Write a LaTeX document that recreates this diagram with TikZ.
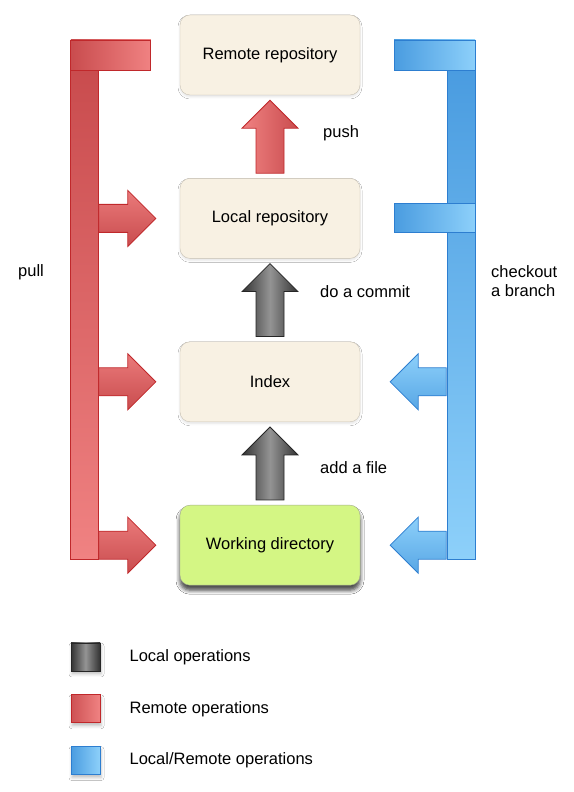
\documentclass[tikz,border=0pt]{standalone}
\usepackage{fontspec}
\setmainfont{Liberation Sans}
\usetikzlibrary{positioning, calc, shadows.blur}
\definecolor{boxfill}{HTML}{F8F1E3}
\definecolor{boxline}{HTML}{C8C1B3}
\definecolor{workfill}{HTML}{D4F684}
\definecolor{workline}{HTML}{A3AD8C}
\definecolor{reddark}{HTML}{C94C4E}
\definecolor{redlight}{HTML}{F08282}
\definecolor{redline}{HTML}{C0282B}
\definecolor{bluedark}{HTML}{4A9CE0}
\definecolor{bluelight}{HTML}{8DD0FA}
\definecolor{blueline}{HTML}{2D7ED0}

% fat arrow pointing up, from tail (#2) to tip (#3)
\newcommand{\opup}[3]{%
  \path[#1] let \p1=(#2), \p2=(#3) in
    (\x1-14pt,\y1) -- (\x1-14pt,\y2-28pt) -- (\x1-28pt,\y2-28pt) -- (\x1,\y2)
    -- (\x1+28pt,\y2-28pt) -- (\x1+14pt,\y2-28pt) -- (\x1+14pt,\y1) -- cycle;}
% fat arrow pointing left or right
\newcommand{\opside}[3]{%
  \path[#1] let \p1=(#2), \p2=(#3), \n1={sign(\x2-\x1)*28} in
    (\x1,\y1-14pt) -- (\x2-\n1,\y1-14pt) -- (\x2-\n1,\y1-28pt) -- (\x2,\y1)
    -- (\x2-\n1,\y1+28pt) -- (\x2-\n1,\y1+14pt) -- (\x1,\y1+14pt) -- cycle;}

\begin{document}
\begin{tikzpicture}[
    x=1pt, y=1pt,
    node distance=83pt,
    every node/.style={font=\fontsize{16.5}{19}\selectfont},
    repo/.style={rectangle, rounded corners=10pt, draw=boxline, fill=boxfill, minimum width=180pt, minimum height=80pt,
      blur shadow={shadow xshift=0pt, shadow yshift=-2pt, shadow blur radius=2pt, shadow opacity=10}},
    lbl/.style={inner sep=0pt, anchor=west, align=left},
    keybox/.style={rectangle, minimum width=29pt, minimum height=28pt, inner sep=0pt,
      blur shadow={shadow xshift=1pt, shadow yshift=-3pt, shadow blur radius=3pt, shadow opacity=25}},
    localop/.style={draw=black!85, thick, left color=black!80, right color=black!80, middle color=black!42},
    remoteop/.style={draw=redline, thick},
    bothop/.style={draw=blueline, thick}
]
    \fill[white] (0,0) rectangle (573,792);
    \useasboundingbox (0,0) rectangle (573,792);

    \node[repo] (remote) at (270,737) {Remote repository};
    \node[repo, below=of remote] (local) {Local repository};
    \node[repo, below=of local] (index) {Index};
    \node[repo, below=of index, fill=workfill, draw=workline,
      blur shadow={shadow xshift=0pt, shadow yshift=-5pt, shadow blur radius=4pt, shadow opacity=45}] (work) {Working directory};

    % pull bar
    \coordinate (pullbar) at ($(remote.west)+(-95pt,0)$);
    \path[remoteop, top color=reddark, bottom color=redlight]
      ($(pullbar|-work)+(-14pt,-14pt)$) rectangle ($(pullbar|-remote)+(14pt,-15pt)$);
    \path[remoteop, left color=reddark, right color=redlight]
      ($(pullbar|-remote)+(-14pt,-15pt)$) rectangle ($(remote.west)+(-29pt,15pt)$);
    \opside{remoteop, top color=redlight!85!reddark, bottom color=reddark}{$(local.west)+(-81pt,0)$}{$(local.west)+(-24pt,0)$}
    \opside{remoteop, top color=redlight!85!reddark, bottom color=reddark}{$(index.west)+(-81pt,0)$}{$(index.west)+(-24pt,0)$}
    \opside{remoteop, top color=redlight!85!reddark, bottom color=reddark}{$(work.west)+(-81pt,0)$}{$(work.west)+(-24pt,0)$}

    % checkout bar
    \coordinate (checkbar) at ($(remote.east)+(101pt,0)$);
    \path[bothop, top color=bluedark, bottom color=bluelight]
      ($(checkbar|-work)+(-14pt,-14pt)$) rectangle ($(checkbar|-remote)+(14pt,-15pt)$);
    \path[bothop, left color=bluedark, right color=bluelight]
      ($(remote.east)+(34pt,-15pt)$) rectangle ($(checkbar|-remote)+(14pt,15pt)$);
    \path[bothop, left color=bluedark, right color=bluelight]
      ($(local.east)+(34pt,-14pt)$) rectangle ($(checkbar|-local)+(14pt,15pt)$);
    \opside{bothop, top color=bluelight, bottom color=bluedark!80!bluelight}{$(index.east)+(86pt,0)$}{$(index.east)+(30pt,0)$}
    \opside{bothop, top color=bluelight, bottom color=bluedark!80!bluelight}{$(work.east)+(86pt,0)$}{$(work.east)+(30pt,0)$}

    % vertical operations
    \opup{remoteop, left color=redlight, right color=reddark}{$(local.north)+(0,5pt)$}{$(remote.south)+(0,-5pt)$}
    \opup{localop}{$(index.north)+(0,5pt)$}{$(local.south)+(0,-5pt)$}
    \opup{localop}{$(work.north)+(0,5pt)$}{$(index.south)+(0,-5pt)$}

    \node[lbl] (pushlbl) at (323,659) {push};
    \node[lbl] (commitlbl) at (320,500) {do a commit};
    \node[lbl] (addlbl) at (320,324) {add a file};
    \node[lbl] (pulllbl) at (18,520) {pull};
    \node[lbl] (checklbl) at (491,510.5) {checkout\\a branch};

    % legend
    \node[keybox, localop] (keylocal) at (85.5,135) {};
    \node[keybox, remoteop, left color=reddark!90!redlight, right color=redlight, below=23pt of keylocal] (keyremote) {};
    \node[keybox, bothop, left color=bluedark, right color=bluelight, below=23pt of keyremote] (keyboth) {};
    \node[lbl, right=29pt of keylocal] (txtlocal) {Local operations};
    \node[lbl, right=29pt of keyremote] (txtremote) {Remote operations};
    \node[lbl, right=29pt of keyboth] (txtboth) {Local/Remote operations};
\end{tikzpicture}
\end{document}
